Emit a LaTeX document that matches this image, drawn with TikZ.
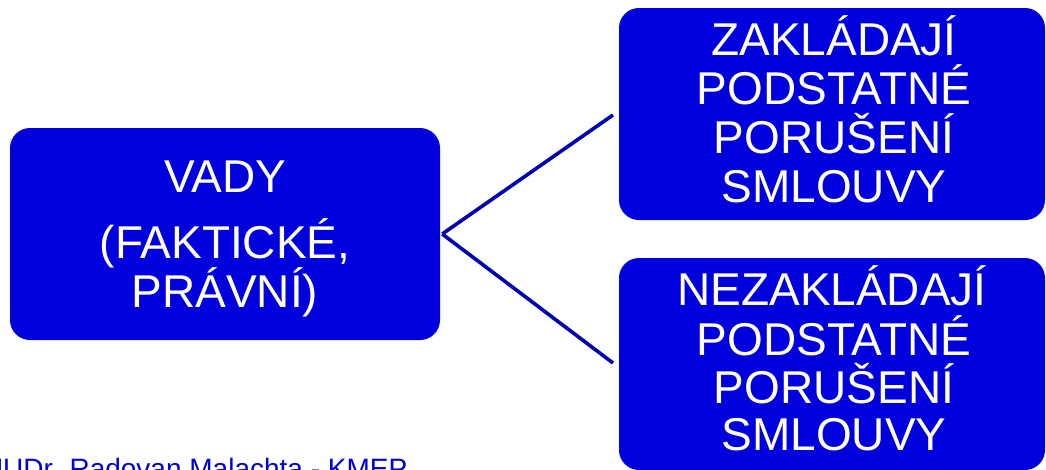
\documentclass[tikz,border=0pt]{standalone}
\usepackage{fontspec}
\setmainfont{Liberation Sans}
\definecolor{boxblue}{RGB}{0,0,221}
\definecolor{lineblue}{RGB}{0,0,180}
\tikzset{
  box/.style={fill=boxblue, draw=none, rounded corners=20pt, inner sep=0pt},
  txt/.style={text=white, anchor=base, inner sep=0pt, font=\fontsize{46}{49}\selectfont},
  conn/.style={draw=lineblue, line width=3.6pt},
  foot/.style={text=boxblue, anchor=base west, inner sep=0pt, font=\fontsize{28}{30}\selectfont}
}
\begin{document}
\begin{tikzpicture}[x=1pt,y=-1pt]
\useasboundingbox (0,0) rectangle (1046,469);
\clip (0,0) rectangle (1046,469);
% boxes
\node[box, minimum width=430pt, minimum height=212pt] (vady) at (225,234) {};
\node[box, minimum width=426pt, minimum height=212pt] (zakl) at (832,114) {};
\node[box, minimum width=426pt, minimum height=212pt] (nezakl) at (832,364) {};
% left text
\node[txt] (v1) at (225,192) {VADY};
\node[txt] (v2) at (225,258) {(FAKTICKÉ,};
\node[txt] (v3) at (225,307) {PRÁVNÍ)};
% top right text
\node[txt] (z1) at (834,55) {ZAKLÁDAJÍ};
\node[txt] (z2) at (834,104) {PODSTATNÉ};
\node[txt] (z3) at (834,153) {PORUŠENÍ};
\node[txt] (z4) at (834,202) {SMLOUVY};
% bottom right text
\node[txt] (n1) at (832,305) {NEZAKLÁDAJÍ};
\node[txt] (n2) at (834,355) {PODSTATNÉ};
\node[txt] (n3) at (834,403) {PORUŠENÍ};
\node[txt] (n4) at (834,450) {SMLOUVY};
% connectors
\coordinate (tipTop) at (613,115);
\coordinate (tipBot) at (613,363);
\draw[conn] ([xshift=2pt]vady.east) -- (tipTop);
\draw[conn] ([xshift=2pt]vady.east) -- (tipBot);
% footer
\node[foot] (footer) at (-11,478) {JUDr. Radovan Malachta - KMEP};
\end{tikzpicture}
\end{document}
